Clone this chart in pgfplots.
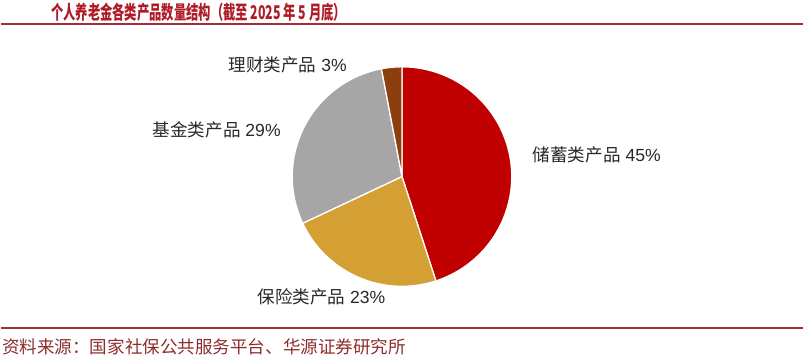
\documentclass[border=0pt]{standalone}
\usepackage{pgfplots}
\pgfplotsset{compat=1.18}
\usepackage{fontspec}
\setmainfont{Liberation Sans}
\newfontfamily\cjk{Noto Sans CJK SC}
\definecolor{cred}{RGB}{192,0,0}
\definecolor{cgold}{RGB}{212,160,52}
\definecolor{cgray}{RGB}{166,166,166}
\definecolor{cbrown}{RGB}{139,62,14}
\definecolor{ctitle}{RGB}{175,28,40}
\definecolor{cline}{RGB}{160,45,55}
\definecolor{csrc}{RGB}{140,45,45}
\definecolor{clab}{RGB}{40,40,40}
% shares (%) : savings, insurance, funds, wealth management
\def\vA{45}\def\vB{23}\def\vC{29}\def\vD{3}
\begin{document}
\begin{tikzpicture}
\begin{axis}[
  scale only axis, width=804pt, height=356pt,
  xmin=0, xmax=804, ymin=0, ymax=356,
  hide axis, clip=false,
]
% pie centred at (402,179), radius 110, starting at 12 o'clock, clockwise
\pgfmathsetmacro{\aA}{90}
\pgfmathsetmacro{\aB}{\aA-\vA*3.6}
\pgfmathsetmacro{\aC}{\aB-\vB*3.6}
\pgfmathsetmacro{\aD}{\aC-\vC*3.6}
\pgfmathsetmacro{\aE}{\aD-\vD*3.6}
\addplot[fill=cred, draw=white, line width=1.3pt, domain=\aB:\aA, samples=90, variable=\t]
  ({402+110*cos(t)},{179+110*sin(t)}) -- (axis cs:402,179) -- cycle;
\addplot[fill=cgold, draw=white, line width=1.3pt, domain=\aC:\aB, samples=60, variable=\t]
  ({402+110*cos(t)},{179+110*sin(t)}) -- (axis cs:402,179) -- cycle;
\addplot[fill=cgray, draw=white, line width=1.3pt, domain=\aD:\aC, samples=60, variable=\t]
  ({402+110*cos(t)},{179+110*sin(t)}) -- (axis cs:402,179) -- cycle;
\addplot[fill=cbrown, draw=white, line width=1.3pt, domain=\aE:\aD, samples=20, variable=\t]
  ({402+110*cos(t)},{179+110*sin(t)}) -- (axis cs:402,179) -- cycle;
% labels
\node[anchor=west, inner sep=0, text=clab, font=\fontsize{17.6}{20}\selectfont] at (axis cs:228,291) {{\cjk 理财类产品} 3\%};
\node[anchor=west, inner sep=0, text=clab, font=\fontsize{17.6}{20}\selectfont] at (axis cs:152,226) {{\cjk 基金类产品} 29\%};
\node[anchor=west, inner sep=0, text=clab, font=\fontsize{17.6}{20}\selectfont] at (axis cs:533,201) {{\cjk 储蓄类产品} 45\%};
\node[anchor=west, inner sep=0, text=clab, font=\fontsize{17.6}{20}\selectfont] at (axis cs:257,58) {{\cjk 保险类产品} 23\%};
% title, rules, source
\node[anchor=west, inner sep=0, text=ctitle] at (axis cs:50,344) {\scalebox{0.65}[1]{\fontsize{19}{21}\selectfont\cjk\bfseries 个人养老金各类产品数量结构（截至 2025 年 5 月底）}};
\draw[cline, line width=2pt] (axis cs:0,332) -- (axis cs:804,332);
\draw[cline, line width=1.5pt] (axis cs:0,27) -- (axis cs:804,27);
\node[anchor=west, inner sep=0, text=csrc] at (axis cs:1,8) {\fontsize{17.6}{19}\selectfont\cjk 资料来源：国家社保公共服务平台、华源证券研究所};
\end{axis}
\path (current axis.south west) rectangle (current axis.north east);
\end{tikzpicture}
\end{document}
